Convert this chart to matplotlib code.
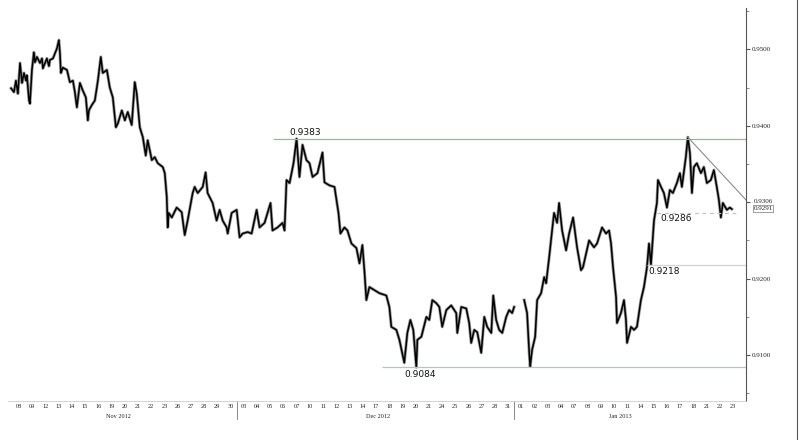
import numpy as np
import matplotlib.pyplot as plt
from matplotlib.lines import Line2D

# Sesiones mostradas en el eje x (una etiqueta por dia habil)
dias_nov = ["08", "09", "12", "13", "14", "15", "16", "19", "20", "21", "22", "23",
            "26", "27", "28", "29", "30"]
dias_dic = ["03", "04", "05", "06", "07", "10", "11", "12", "13", "14", "17", "18",
            "19", "20", "21", "24", "25", "26", "27", "28", "31"]
dias_ene = ["01", "02", "03", "04", "07", "08", "09", "10", "11", "14", "15", "16",
            "17", "18", "21", "22", "23"]
meses = ["Nov 2012", "Dec 2012", "Jan 2013"]

# Precio (posicion en dias, cotizacion)
nov = [(-0.60, 0.9449), (-0.38, 0.9444), (-0.23, 0.9459), (-0.08, 0.9442), (0.08, 0.9482),
       (0.23, 0.9456), (0.38, 0.9469), (0.53, 0.9459), (0.60, 0.9466), (0.76, 0.9433),
       (0.83, 0.9429), (0.98, 0.9473), (1.13, 0.9496), (1.21, 0.9483), (1.36, 0.9490),
       (1.59, 0.9482), (1.74, 0.9488), (1.81, 0.9475), (2.11, 0.9488), (2.27, 0.9478),
       (2.34, 0.9486), (2.57, 0.9488), (2.87, 0.9501), (3.02, 0.9512), (3.10, 0.9495),
       (3.17, 0.9469), (3.32, 0.9476), (3.63, 0.9473), (3.85, 0.9457), (4.08, 0.9459),
       (4.23, 0.9444), (4.38, 0.9424), (4.61, 0.9456), (4.83, 0.9446), (5.06, 0.9437),
       (5.21, 0.9407), (5.29, 0.9420), (5.51, 0.9427), (5.74, 0.9433), (5.97, 0.9459),
       (6.19, 0.9490), (6.34, 0.9469), (6.65, 0.9473), (6.87, 0.9450), (7.10, 0.9437),
       (7.33, 0.9398), (7.48, 0.9403), (7.78, 0.9420), (8.01, 0.9407), (8.23, 0.9418),
       (8.53, 0.9401), (8.76, 0.9457), (8.91, 0.9442), (9.14, 0.9398), (9.37, 0.9385),
       (9.59, 0.9361), (9.74, 0.9381), (10.05, 0.9355), (10.27, 0.9359), (10.50, 0.9351),
       (10.88, 0.9346), (11.03, 0.9338), (11.18, 0.9307), (11.25, 0.9267), (11.33, 0.9286),
       (11.56, 0.9280), (11.93, 0.9293), (12.31, 0.9287), (12.54, 0.9257), (12.76, 0.9276),
       (13.14, 0.9312), (13.29, 0.9320), (13.52, 0.9312), (13.90, 0.9320), (14.12, 0.9339),
       (14.27, 0.9312), (14.65, 0.9299), (14.95, 0.9276), (15.18, 0.9290), (15.41, 0.9276),
       (15.71, 0.9267), (15.79, 0.9259), (16.09, 0.9286), (16.47, 0.9290)]
dic = [(16.69, 0.9254), (16.92, 0.9259), (17.30, 0.9261), (17.60, 0.9259), (17.98, 0.9290),
       (18.20, 0.9267), (18.58, 0.9273), (19.03, 0.9299), (19.18, 0.9263), (19.56, 0.9267),
       (19.94, 0.9273), (20.09, 0.9263), (20.24, 0.9329), (20.47, 0.9325), (20.77, 0.9351),
       (21.00, 0.9383), (21.22, 0.9333), (21.45, 0.9375), (21.75, 0.9355), (21.98, 0.9351),
       (22.21, 0.9333), (22.58, 0.9338), (22.96, 0.9365), (23.11, 0.9326), (23.49, 0.9322),
       (23.87, 0.9320), (24.02, 0.9303), (24.17, 0.9286), (24.32, 0.9259), (24.62, 0.9267),
       (24.85, 0.9263), (25.15, 0.9246), (25.53, 0.9240), (25.76, 0.9220), (25.98, 0.9244),
       (26.13, 0.9211), (26.28, 0.9172), (26.51, 0.9189), (26.89, 0.9185), (27.27, 0.9181),
       (27.79, 0.9178), (28.02, 0.9163), (28.17, 0.9137), (28.55, 0.9133), (28.78, 0.9120),
       (29.15, 0.9090), (29.38, 0.9129), (29.61, 0.9146), (29.83, 0.9133), (30.06, 0.9084),
       (30.14, 0.9120), (30.44, 0.9124), (30.82, 0.9150), (31.04, 0.9146), (31.27, 0.9172),
       (31.57, 0.9168), (31.80, 0.9163), (32.02, 0.9137), (32.33, 0.9159), (32.70, 0.9165),
       (33.08, 0.9155), (33.16, 0.9129), (33.46, 0.9163), (33.84, 0.9161), (34.06, 0.9142),
       (34.21, 0.9116), (34.44, 0.9133), (34.67, 0.9130), (34.97, 0.9103), (35.20, 0.9150),
       (35.42, 0.9137), (35.73, 0.9129), (35.88, 0.9178), (36.10, 0.9146), (36.33, 0.9133),
       (36.56, 0.9129), (36.86, 0.9150), (37.08, 0.9159), (37.31, 0.9155), (37.46, 0.9163)]
ene = [(38.22, 0.9172), (38.44, 0.9155), (38.60, 0.9103), (38.67, 0.9085), (38.82, 0.9107),
       (39.05, 0.9124), (39.20, 0.9172), (39.50, 0.9181), (39.73, 0.9202), (39.88, 0.9194),
       (40.11, 0.9228), (40.33, 0.9263), (40.48, 0.9286), (40.71, 0.9273), (40.86, 0.9299),
       (41.09, 0.9263), (41.39, 0.9237), (41.62, 0.9259), (41.92, 0.9280), (42.22, 0.9241),
       (42.52, 0.9211), (42.67, 0.9215), (43.13, 0.9250), (43.50, 0.9241), (43.73, 0.9246),
       (44.11, 0.9267), (44.41, 0.9259), (44.64, 0.9263), (44.79, 0.9246), (44.94, 0.9215),
       (45.17, 0.9176), (45.24, 0.9142), (45.54, 0.9155), (45.77, 0.9172), (45.92, 0.9146),
       (46.00, 0.9116), (46.30, 0.9137), (46.53, 0.9133), (46.75, 0.9137), (47.05, 0.9172),
       (47.28, 0.9189), (47.51, 0.9215), (47.66, 0.9246), (47.81, 0.9218), (48.04, 0.9276),
       (48.26, 0.9299), (48.34, 0.9329), (48.57, 0.9320), (48.79, 0.9312), (49.02, 0.9293),
       (49.24, 0.9316), (49.47, 0.9312), (49.77, 0.9325), (50.00, 0.9338), (50.15, 0.9320),
       (50.45, 0.9359), (50.60, 0.9385), (50.76, 0.9364), (50.91, 0.9312), (51.06, 0.9346),
       (51.28, 0.9351), (51.59, 0.9338), (51.81, 0.9346), (52.04, 0.9325), (52.34, 0.9329),
       (52.57, 0.9342), (52.79, 0.9320), (52.95, 0.9303), (53.10, 0.9280), (53.25, 0.9299),
       (53.55, 0.9290), (53.78, 0.9293), (53.93, 0.9291)]

# Niveles marcados
maximo = 0.9383
minimo = 0.9084
soporte1 = 0.9218
soporte2 = 0.9286
ultimo = 0.9291
directriz = 0.9306
ejes_y = [0.9100, 0.9200, 0.9300, 0.9400, 0.9500]

fig = plt.figure(figsize=(8.08, 4.40), dpi=100)
ax = fig.add_axes([8 / 808, 39 / 440, 738 / 808, 393 / 440])

x0, x1 = -0.83, 55.0
ax.set_xlim(x0, x1)
ax.set_ylim(0.9040, 0.9554)

# Serie de precios (hueco en fin de anio)
for tramo in (nov + dic, ene):
    t = [a for a, b in tramo]
    p = [b for a, b in tramo]
    ax.plot(t, p, color="#555555", lw=2.2, solid_joinstyle="round", alpha=0.6)
    ax.plot(t, p, color="black", lw=1.1, solid_joinstyle="round")

# Lineas horizontales y directriz bajista
ax.hlines(maximo, 19.18, x1, color="#7fc97f", lw=0.9)
ax.hlines(minimo, 27.5, x1, color="#a9cfa9", lw=0.9)
ax.hlines(soporte1, 47.5, x1, color="#c3dcc3", lw=0.9)
ax.hlines(soporte2, 48.3, x1 - 0.5, color="#a8d4a8", lw=0.9, linestyles=(0, (3, 3)))
ax.plot([50.6, x1], [0.9385, 0.9303], color="#8c8c8c", lw=0.8)

etq = dict(fontsize=6.5, family="DejaVu Sans", color="#111111")
ax.text(20.47, maximo + 0.0002, f"{maximo:.4f}", va="bottom", **etq)
ax.text(29.15, minimo - 0.0003, f"{minimo:.4f}", va="top", **etq)
ax.text(47.6, soporte1 - 0.0003, f"{soporte1:.4f}", va="top", **etq)
ax.text(48.5, soporte2 - 0.0002, f"{soporte2:.4f}", va="top", **etq)

# Ejes: solo derecho e inferior
for lado in ("left", "top"):
    ax.spines[lado].set_visible(False)
ax.spines["right"].set_color("#555555")
ax.spines["right"].set_linewidth(0.8)
ax.spines["bottom"].set_color("#cccccc")
ax.spines["bottom"].set_linewidth(0.6)

ax.yaxis.tick_right()
ax.set_yticks(ejes_y)
ax.set_yticklabels([f"{v:.4f}" if abs(v - 0.93) > 1e-6 else "" for v in ejes_y])
ax.set_yticks(np.arange(0.9050, 0.9560, 0.01), minor=True)
ax.tick_params(axis="y", which="major", length=3, width=0.8, pad=1,
               labelsize=5, colors="#555555", labelcolor="#222222")
ax.tick_params(axis="y", which="minor", length=2, width=0.6, colors="#777777")
for lab in ax.get_yticklabels():
    lab.set_family("Liberation Serif")
ax.text(x1 + 0.55, 0.9301, f"{directriz:.4f}", fontsize=5, family="Liberation Serif",
        va="center", ha="left", color="#222222")
ax.text(x1 + 0.55, 0.9292, f"{ultimo:.4f}", fontsize=5, family="Liberation Serif",
        va="center", ha="left", color="#222222",
        bbox=dict(boxstyle="square,pad=0.1", fc="white", ec="#777777", lw=0.5))

# Eje x: dias y meses
dias = dias_nov + dias_dic + dias_ene
pos = np.arange(len(dias))
ax.set_xticks(pos)
ax.set_xticklabels(dias)
ax.tick_params(axis="x", length=0, pad=2, labelsize=4.5, labelcolor="#222222")
for lab in ax.get_xticklabels():
    lab.set_family("Liberation Serif")

for nombre, xm in zip(meses, [7.5, 27.2, 45.5]):
    ax.text(xm, -0.032, nombre, transform=ax.get_xaxis_transform(), ha="center",
            va="top", fontsize=4.5, family="Liberation Serif", color="#222222")
for xs in (len(dias_nov) - 0.53, len(dias_nov) + len(dias_dic) - 0.54):
    ax.plot([xs, xs], [-0.00, -0.045], transform=ax.get_xaxis_transform(),
            color="#777777", lw=0.6, clip_on=False)

# Marco exterior derecho
fig.add_artist(Line2D([797 / 808, 797 / 808], [0, 1], color="#555555", lw=0.8))

fig.savefig("out.png", dpi=100)
